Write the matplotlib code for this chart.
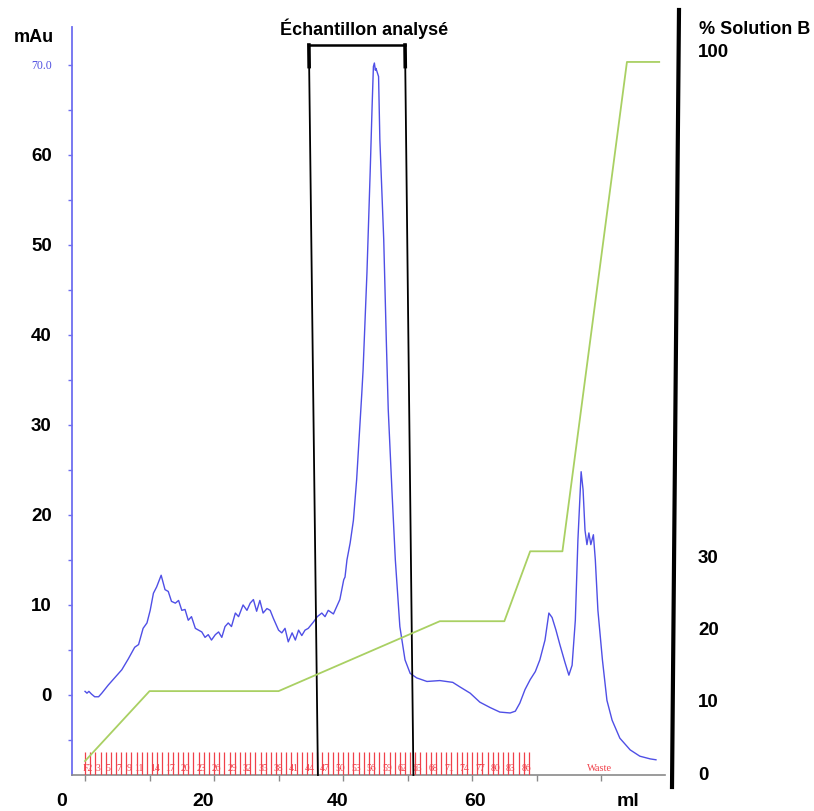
import matplotlib
matplotlib.use("Agg")
import matplotlib.pyplot as plt
import matplotlib.transforms as mtransforms
from matplotlib.lines import Line2D
import numpy as np

# ---------------- data ----------------
trace_ml = [0.0, 0.3, 0.6, 1.0, 1.5, 2.1, 2.6, 3.6, 4.7, 5.7, 6.7, 7.7, 8.3, 9.0, 9.6,
            10.1, 10.6, 11.1, 11.8, 12.4, 12.9, 13.4, 14.0, 14.5, 15.0, 15.5, 16.0, 16.5,
            17.1, 17.6, 18.1, 18.6, 19.1, 19.6, 20.2, 20.7, 21.2, 21.7, 22.2, 22.7, 23.3,
            23.8, 24.5, 25.1, 25.6, 26.1, 26.6, 27.1, 27.6, 28.2, 28.7, 29.2, 30.0, 30.5,
            31.0, 31.5, 32.1, 32.6, 33.1, 33.6, 34.1, 34.6, 35.4, 36.0, 36.7, 37.2, 37.7,
            38.5, 39.0, 39.5, 40.1, 40.3, 40.6, 41.1, 41.6, 42.1, 42.6, 42.9, 43.1, 43.7,
            44.2, 44.5, 44.7, 44.85, 45.0, 45.1, 45.5, 45.7, 46.3, 46.7, 47.0, 47.6, 48.1,
            48.8, 49.6, 50.4, 51.4, 53.0, 55.0, 56.0, 57.0, 58.1, 59.7, 61.2, 62.8, 64.3,
            65.9, 66.7, 67.4, 68.2, 69.0, 69.8, 70.5, 71.3, 71.9, 72.4, 73.0, 73.6, 74.4,
            75.0, 75.5, 76.0, 76.4, 76.9, 77.2, 77.5, 77.8, 78.1, 78.4, 78.8, 79.1, 79.5,
            80.2, 80.9, 81.7, 82.9, 84.5, 86.0, 87.6, 88.5]
trace_mau = [0.4, 0.2, 0.4, 0.1, -0.2, -0.2, 0.2, 1.1, 2.0, 2.8, 4.0, 5.3, 5.6, 7.4, 8.0,
             9.4, 11.3, 12.0, 13.3, 11.7, 11.5, 10.4, 10.2, 10.5, 9.4, 9.5, 8.3, 8.7,
             7.4, 7.2, 7.0, 6.4, 6.7, 6.1, 6.7, 7.0, 6.4, 7.6, 8.0, 7.6, 9.1,
             8.7, 10.0, 9.4, 10.2, 10.6, 9.3, 10.5, 9.1, 9.6, 9.4, 8.5, 7.2, 6.9,
             7.4, 5.9, 6.9, 6.1, 7.2, 6.6, 7.2, 7.4, 8.1, 8.7, 9.1, 8.7, 9.4,
             9.0, 9.8, 10.6, 12.8, 13.1, 15.0, 16.9, 19.4, 23.9, 29.8, 33.5, 36.1, 46.9,
             58.1, 65.4, 69.8, 70.2, 69.4, 69.6, 68.7, 61.7, 50.6, 39.4, 31.7, 22.3, 15.0,
             7.6, 3.9, 2.4, 1.9, 1.5, 1.6, 1.5, 1.4, 0.9, 0.2, -0.8, -1.4, -1.9,
             -2.0, -1.8, -0.9, 0.6, 1.7, 2.6, 3.9, 6.1, 9.1, 8.6, 7.2, 5.6, 3.6,
             2.2, 3.3, 8.3, 17.2, 24.8, 22.8, 18.3, 16.7, 18.0, 16.7, 17.8, 15.0, 9.4,
             3.9, -0.6, -2.8, -4.8, -6.1, -6.8, -7.1, -7.2]

grad_ml = [0, 10, 30, 55, 65, 69, 74, 84, 89]
grad_pctB = [0, 10, 10, 20, 20, 30, 30, 100, 100]

frac_size = 0.8
n_fractions = 86
frac_labels = ['F2', '3', '5', '7', '9', '11', '14', '17', '20', '23', '26', '29', '32',
               '35', '38', '41', '44', '47', '50', '53', '56', '59', '62', '65', '68',
               '71', '74', '77', '80', '83', '86']
frac_label_num = [1, 3, 5, 7, 9, 11, 14, 17, 20, 23, 26, 29, 32, 35, 38, 41, 44, 47, 50,
                  53, 56, 59, 62, 65, 68, 71, 74, 77, 80, 83, 86]
waste_ml = 79.8

sample_left = (34.7, 36.1)    # top, bottom (ml)
sample_right = (49.6, 50.9)
bracket_top = 72.2

left_ticks = [0, 10, 20, 30, 40, 50, 60, 70]
left_labels = ['0', '10', '20', '30', '40', '50', '60', '70.0']
x_labels = ['0', '20', '40', '60', 'ml']
x_label_pos = [-3.6, 18.3, 39.2, 60.5, 84.2]
right_labels = ['0', '10', '20', '30', '100']
right_label_pos = [-2.0, 8.3, 18.6, 28.9, 101.4]

# ---------------- figure ----------------
W, H = 814, 811
fig = plt.figure(figsize=(W / 100, H / 100), dpi=100)
plt.rcParams['font.family'] = ['Liberation Sans', 'DejaVu Sans']

def fx(px):
    return px / W

def fy(py):
    return 1 - py / H

ax = fig.add_axes([fx(72), fy(775), (665 - 72) / W, (775 - 27) / H])
ax.set_xlim(-2.02, 89.9)
ax.set_ylim(-8.89, 74.2)
ax2 = ax.twinx()
ax2.set_ylim(-2.0, 105.0)

blue_axis = '#6e6ef0'
trace_col = '#4f4fe6'
green = '#a9d063'
red = '#f0404a'

ax.plot(trace_ml, trace_mau, color=trace_col, lw=1.0, zorder=3)
ax2.plot(grad_ml, grad_pctB, color=green, lw=1.3, zorder=2)

# spines
for s in ['top', 'right']:
    ax.spines[s].set_visible(False)
for s in ['top', 'right', 'left', 'bottom']:
    ax2.spines[s].set_visible(False)
ax.spines['left'].set_color(blue_axis)
ax.spines['left'].set_linewidth(1.3)
ax.spines['bottom'].set_color('#8a8a8a')
ax.spines['bottom'].set_linewidth(1.2)
ax2.set_yticks([])

# left ticks
ax.set_yticks(left_ticks)
ax.set_yticks(np.arange(-5, 71, 5), minor=True)
ax.set_yticklabels(left_labels)
ax.tick_params(axis='y', which='both', colors=blue_axis, length=3, width=1, pad=11.5)
for t in ax.get_yticklabels():
    t.set_color('black')
    t.set_fontsize(13.5)
    t.set_fontweight('bold')
lab70 = ax.get_yticklabels()[-1]
lab70.set_color('#5050e0')
lab70.set_fontsize(8.5)
lab70.set_fontweight('normal')
lab70.set_fontfamily(['Liberation Serif', 'DejaVu Serif'])

# x ticks
ax.set_xticks(np.arange(0, 81, 10))
ax.set_xticklabels([])
ax.tick_params(axis='x', colors='#8a8a8a', length=4, width=1)
xtrans = mtransforms.blended_transform_factory(ax.transData, ax.transAxes)
for lab, pos in zip(x_labels, x_label_pos):
    ax.text(pos, -0.036, lab, transform=xtrans, ha='center', va='center',
            fontsize=14, fontweight='bold', color='black', clip_on=False)

# fraction marks
frac_edges = np.arange(0, n_fractions + 1) * frac_size
ax.vlines(frac_edges, 0, 0.031, transform=xtrans, color=red, lw=0.9, zorder=4)
for lab, n in zip(frac_labels, frac_label_num):
    ax.text((n - 0.5) * frac_size, 0.0085, lab, transform=xtrans, ha='center',
            va='center', fontsize=7, color=red, family=['Liberation Serif'], zorder=5)
ax.text(waste_ml, 0.0085, 'Waste', transform=xtrans, ha='center', va='center',
        fontsize=7.5, color=red, family=['Liberation Serif'])

# sample bracket
ybot = ax.get_ylim()[0]
ax.plot([sample_left[0], sample_right[0]], [bracket_top, bracket_top], color='black',
        lw=1.8, clip_on=False, zorder=6)
ax.plot([sample_left[0], sample_left[0] + 0.04], [bracket_top, bracket_top - 2.4],
        color='black', lw=2.6, clip_on=False, zorder=6)
ax.plot([sample_right[0], sample_right[0] + 0.04], [bracket_top, bracket_top - 2.4],
        color='black', lw=2.6, clip_on=False, zorder=6)
ax.plot([sample_left[0], sample_left[1]], [bracket_top, ybot], color='black', lw=1.3,
        clip_on=False, zorder=6)
ax.plot([sample_right[0], sample_right[1]], [bracket_top, ybot], color='black', lw=1.3,
        clip_on=False, zorder=6)

# right thick line and labels
fig.add_artist(Line2D([fx(679), fx(672)], [fy(10), fy(787)], color='black', lw=3.0))
rtrans = mtransforms.blended_transform_factory(ax2.transAxes, ax2.transData)
for lab, pos in zip(right_labels, right_label_pos):
    ax2.text((698 - 72) / 593, pos, lab, transform=rtrans, ha='left', va='center',
             fontsize=13.5, fontweight='bold', color='black', clip_on=False)

fig.text(fx(699), fy(29), '% Solution B', ha='left', va='center', fontsize=13,
         fontweight='bold')
fig.text(fx(34), fy(38), 'mAu', ha='center', va='center', fontsize=13,
         fontweight='bold')
fig.text(fx(364), fy(29), 'Échantillon analysé', ha='center', va='center',
         fontsize=13, fontweight='bold')

fig.savefig('out.png', dpi=100)
